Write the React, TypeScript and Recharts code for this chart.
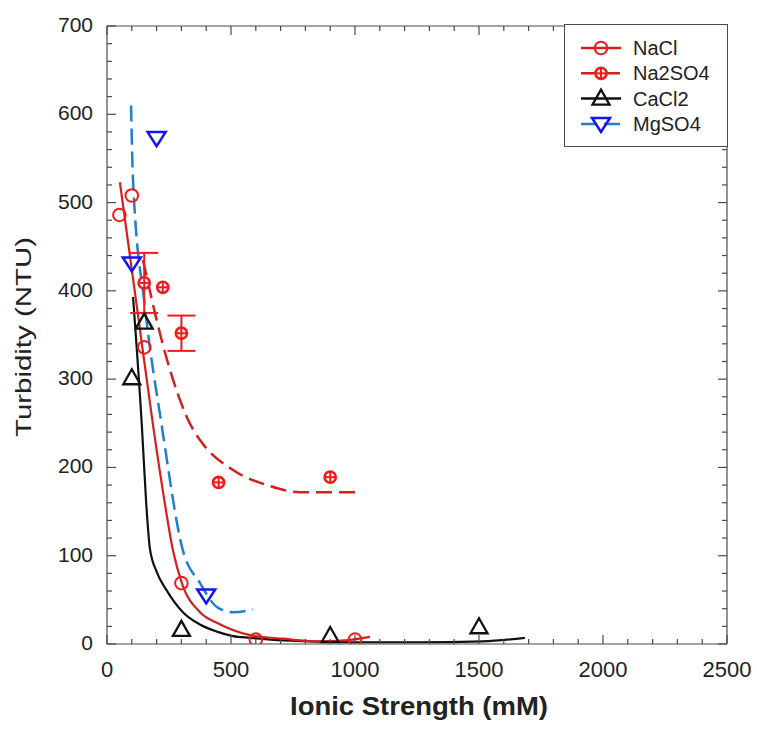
import React from 'react';
import { ComposedChart, Line, Scatter, XAxis, YAxis, ErrorBar } from 'recharts';

// measured points (ionic strength mM, turbidity NTU)
const naclPoints = [
  { x: 50, y: 486 }, { x: 100, y: 508 }, { x: 150, y: 336 },
  { x: 300, y: 69 }, { x: 600, y: 5 }, { x: 1000, y: 5 },
];
const na2so4Points = [
  { x: 150, y: 409, err: 34 }, { x: 225, y: 404, err: 0 }, { x: 300, y: 352, err: 20 },
  { x: 450, y: 183, err: 0 }, { x: 900, y: 189, err: 0 },
];
const cacl2Points = [
  { x: 100, y: 301 }, { x: 150, y: 364 }, { x: 300, y: 16 },
  { x: 900, y: 9 }, { x: 1500, y: 19 },
];
const mgso4Points = [
  { x: 100, y: 431 }, { x: 200, y: 573 }, { x: 400, y: 55 },
];

// fitted curves
const naclFit = [
  { x: 52, y: 523 }, { x: 120, y: 383 }, { x: 187, y: 245 }, { x: 230, y: 165 },
  { x: 266, y: 106 }, { x: 302, y: 69 }, { x: 375, y: 36 }, { x: 443, y: 24 },
  { x: 577, y: 10 }, { x: 710, y: 6 }, { x: 847, y: 3 }, { x: 960, y: 4 }, { x: 1060, y: 8 },
];
const na2so4Fit = [
  { x: 145, y: 435 }, { x: 242, y: 322 }, { x: 343, y: 245 }, { x: 375, y: 231 },
  { x: 508, y: 197 }, { x: 645, y: 180 }, { x: 778, y: 172 }, { x: 1000, y: 172 },
];
const cacl2Fit = [
  { x: 105, y: 393 }, { x: 141, y: 245 }, { x: 158, y: 160 }, { x: 173, y: 108 },
  { x: 200, y: 82 }, { x: 240, y: 61 }, { x: 306, y: 36 }, { x: 375, y: 22 },
  { x: 443, y: 14 }, { x: 508, y: 9 }, { x: 577, y: 7 }, { x: 710, y: 4 },
  { x: 980, y: 2 }, { x: 1250, y: 2 }, { x: 1516, y: 3 }, { x: 1685, y: 7 },
];
const mgso4Fit = [
  { x: 97, y: 610 }, { x: 105, y: 525 }, { x: 153, y: 382 }, { x: 222, y: 245 },
  { x: 306, y: 106 }, { x: 375, y: 69 }, { x: 443, y: 42 }, { x: 508, y: 36 }, { x: 589, y: 39 },
];

const xMajor = [0, 500, 1000, 1500, 2000, 2500];
const yMajor = [0, 100, 200, 300, 400, 500, 600, 700];
const xTicks = Array.from({ length: 26 }, (_, i) => i * 100);
const yTicks = Array.from({ length: 36 }, (_, i) => i * 20);

// layout
const W = 757;
const H = 732;
const M_TOP = 26;
const M_RIGHT = 30;
const PLOT_TOP = M_TOP;
const PLOT_RIGHT = W - M_RIGHT;

const FONT = '"Liberation Sans", Arial, sans-serif';
const AXIS = '#4a4a4a';
const RED = '#f01c1c';
const RED_LINE = '#d41f1f';
const BLUE = '#1414f0';
const BLUE_LINE = '#1f80d0';

// bottom ticks point inward, mirrored on the top edge of the frame
const BottomTick = (props: any) => {
  const { x, y, payload } = props;
  const major = xMajor.includes(payload.value);
  const len = major ? 9 : 5;
  return (
    <g>
      <line x1={x} y1={y} x2={x} y2={y - len} stroke={AXIS} strokeWidth={1.2} />
      <line x1={x} y1={PLOT_TOP} x2={x} y2={PLOT_TOP + len} stroke={AXIS} strokeWidth={1.2} />
      {payload.value === 2500 && (
        <line x1={x} y1={PLOT_TOP} x2={x} y2={y} stroke={AXIS} strokeWidth={1.2} />
      )}
      {major && (
        <text x={x} y={y + 33} textAnchor="middle" fontSize={22} fill="#222" fontFamily={FONT}>
          {payload.value}
        </text>
      )}
    </g>
  );
};

// left ticks point inward, mirrored on the right edge of the frame
const LeftTick = (props: any) => {
  const { x, y, payload } = props;
  const major = yMajor.includes(payload.value);
  const len = major ? 9 : 5;
  return (
    <g>
      <line x1={x} y1={y} x2={x + len} y2={y} stroke={AXIS} strokeWidth={1.2} />
      <line x1={PLOT_RIGHT} y1={y} x2={PLOT_RIGHT - len} y2={y} stroke={AXIS} strokeWidth={1.2} />
      {payload.value === 700 && (
        <line x1={x} y1={y} x2={PLOT_RIGHT} y2={y} stroke={AXIS} strokeWidth={1.2} />
      )}
      {major && (
        <text x={x - 14} y={y + 6} textAnchor="end" fontSize={21} fill="#222" fontFamily={FONT}>
          {payload.value}
        </text>
      )}
    </g>
  );
};

const XTitle = (props: any) => {
  const { viewBox } = props;
  return (
    <text x={viewBox.x + viewBox.width / 2 + 2} y={viewBox.y + 71} textAnchor="middle"
      fontSize={26} fontWeight="bold" fill="#222" fontFamily={FONT}
      textLength={258} lengthAdjust="spacingAndGlyphs">
      Ionic Strength (mM)
    </text>
  );
};

const YTitle = (props: any) => {
  const { viewBox } = props;
  const cx = viewBox.x + 31;
  const cy = viewBox.y + viewBox.height / 2 + 2;
  return (
    <text x={cx} y={cy} transform={`rotate(-90 ${cx} ${cy})`} textAnchor="middle"
      fontSize={22} fill="#222" fontFamily={FONT}
      textLength={200} lengthAdjust="spacingAndGlyphs">
      Turbidity (NTU)
    </text>
  );
};

const OpenCircle = ({ cx, cy }: any) => (
  <circle cx={cx} cy={cy} r={6.3} fill="none" stroke={RED} strokeWidth={2} />
);

const CrossCircle = ({ cx, cy }: any) => (
  <g>
    <circle cx={cx} cy={cy} r={5.6} fill="#fff" stroke={RED} strokeWidth={2.6} />
    <line x1={cx - 5.6} y1={cy} x2={cx + 5.6} y2={cy} stroke={RED} strokeWidth={2} />
    <line x1={cx} y1={cy - 5.6} x2={cx} y2={cy + 5.6} stroke={RED} strokeWidth={2} />
  </g>
);

const UpTriangle = ({ cx, cy }: any) => (
  <polygon points={`${cx},${cy - 9} ${cx - 8.5},${cy + 6} ${cx + 8.5},${cy + 6}`}
    fill="none" stroke="#111" strokeWidth={2.3} />
);

const DownTriangle = ({ cx, cy }: any) => (
  <polygon points={`${cx - 9},${cy - 6} ${cx + 9},${cy - 6} ${cx},${cy + 8}`}
    fill="none" stroke={BLUE} strokeWidth={2.5} />
);

const legendRows = [
  { name: 'NaCl', color: RED_LINE, dash: undefined, Marker: OpenCircle },
  { name: 'Na2SO4', color: RED_LINE, dash: '16 7', Marker: CrossCircle },
  { name: 'CaCl2', color: '#111', dash: undefined, Marker: UpTriangle },
  { name: 'MgSO4', color: BLUE_LINE, dash: '16 7', Marker: DownTriangle },
];

const ChartLegend = () => (
  <div style={{
    position: 'absolute', left: 564, top: 24, width: 164, height: 123,
    border: '1px solid #4a4a4a', background: '#fff', boxSizing: 'border-box',
  }}>
    <svg width={162} height={121}>
      {legendRows.map((r, i) => {
        const cy = 23 + i * 25.3;
        return (
          <g key={r.name}>
            <line x1={16} y1={cy} x2={56} y2={cy} stroke={r.color} strokeWidth={2.5} strokeDasharray={r.dash} />
            <r.Marker cx={36} cy={cy} />
            <text x={68} y={cy + 7} fontSize={20} fill="#222" fontFamily={FONT}>{r.name}</text>
          </g>
        );
      })}
    </svg>
  </div>
);

const App: React.FC = () => {
  return (
    <div style={{ position: 'absolute', left: 0, top: 0, width: W, height: H, background: '#fff' }}>
      <ComposedChart width={W} height={H} margin={{ top: M_TOP, right: M_RIGHT, bottom: 0, left: 0 }}>
        <XAxis dataKey="x" type="number" domain={[0, 2500]} ticks={xTicks} interval={0}
          allowDataOverflow height={88} tickSize={0} tickMargin={0} tickLine={false}
          axisLine={{ stroke: AXIS, strokeWidth: 1.2 }} tick={<BottomTick />} label={<XTitle />} />
        <YAxis type="number" domain={[0, 700]} ticks={yTicks} interval={0} allowDataOverflow
          width={107} tickSize={0} tickMargin={0} tickLine={false}
          axisLine={{ stroke: AXIS, strokeWidth: 1.2 }} tick={<LeftTick />} label={<YTitle />} />

        <Line data={mgso4Fit} dataKey="y" type="monotone" stroke={BLUE_LINE} strokeWidth={2.5}
          strokeDasharray="16 7" dot={false} isAnimationActive={false} />
        <Line data={na2so4Fit} dataKey="y" type="monotone" stroke={RED_LINE} strokeWidth={2.5}
          strokeDasharray="16 7" dot={false} isAnimationActive={false} />
        <Line data={cacl2Fit} dataKey="y" type="monotone" stroke="#111" strokeWidth={2.2}
          dot={false} isAnimationActive={false} />
        <Line data={naclFit} dataKey="y" type="monotone" stroke={RED_LINE} strokeWidth={2.2}
          dot={false} isAnimationActive={false} />

        <Scatter data={naclPoints} dataKey="y" shape={<OpenCircle />} isAnimationActive={false} />
        <Scatter data={na2so4Points} dataKey="y" shape={<CrossCircle />} isAnimationActive={false}>
          <ErrorBar dataKey="err" direction="y" width={14} stroke={RED} strokeWidth={2} />
        </Scatter>
        <Scatter data={cacl2Points} dataKey="y" shape={<UpTriangle />} isAnimationActive={false} />
        <Scatter data={mgso4Points} dataKey="y" shape={<DownTriangle />} isAnimationActive={false} />
      </ComposedChart>
      <ChartLegend />
    </div>
  );
};

export default App;
